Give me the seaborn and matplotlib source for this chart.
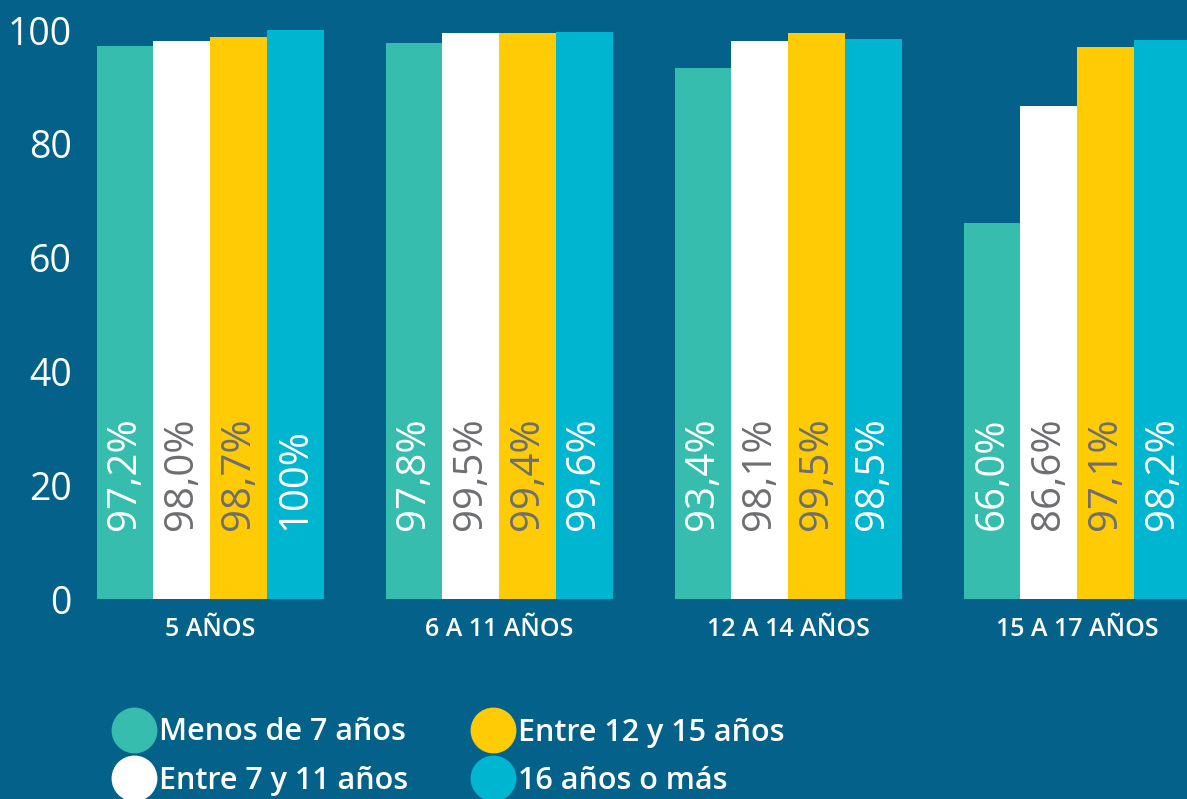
import matplotlib
matplotlib.use("Agg")
import matplotlib.pyplot as plt
from matplotlib.lines import Line2D
import seaborn as sns
import pandas as pd

grupos = ["5 AÑOS", "6 A 11 AÑOS", "12 A 14 AÑOS", "15 A 17 AÑOS"]
series = ["Menos de 7 años", "Entre 7 y 11 años", "Entre 12 y 15 años", "16 años o más"]
menos_7 = [97.2, 97.8, 93.4, 66.0]
entre_7_11 = [98.0, 99.5, 98.1, 86.6]
entre_12_15 = [98.7, 99.4, 99.5, 97.1]
mas_16 = [100.0, 99.6, 98.5, 98.2]
etiquetas = [
    ["97,2%", "97,8%", "93,4%", "66,0%"],
    ["98,0%", "99,5%", "98,1%", "86,6%"],
    ["98,7%", "99,4%", "99,5%", "97,1%"],
    ["100%", "99,6%", "98,5%", "98,2%"],
]

colores = ["#36BDAE", "#FFFFFF", "#FFCB05", "#00B5CF"]
color_texto = ["white", "#6D6E71", "#6D6E71", "white"]
fondo = "#04628A"

valores = [menos_7, entre_7_11, entre_12_15, mas_16]
df = pd.DataFrame({
    "grupo": grupos * 4,
    "serie": [s for s in series for _ in grupos],
    "valor": [v for serie in valores for v in serie],
})

sns.set_theme(style="white")
plt.rcParams["font.family"] = ["Open Sans", "DejaVu Sans"]

fig = plt.figure(figsize=(11.87, 7.99), dpi=100, facecolor=fondo)
ax = fig.add_axes([80 / 1187, 1 - 599 / 799, 1 - 80 / 1187, 569 / 799])
ax.set_facecolor(fondo)

sns.barplot(data=df, x="grupo", y="valor", hue="serie", hue_order=series,
            palette=colores, saturation=1, width=0.785, legend=False,
            linewidth=0, ax=ax)

ax.set_xlim(-0.45, 3.38)
ax.set_ylim(0, 100)
ax.set_yticks([0, 20, 40, 60, 80, 100])
ax.set_xlabel("")
ax.set_ylabel("")
sns.despine(ax=ax, left=True, bottom=True)

ax.tick_params(axis="y", length=0, pad=6, labelsize=27, labelcolor="white")
ax.tick_params(axis="x", length=0, pad=13, labelsize=18, labelcolor="white")
for t in ax.get_xticklabels():
    t.set_fontweight("semibold")

for i, cont in enumerate(ax.containers):
    for j, bar in enumerate(cont):
        ax.text(bar.get_x() + bar.get_width() / 2, 12.2, etiquetas[i][j],
                rotation=90, ha="center", va="bottom", fontsize=29,
                color=color_texto[i])

handles = [Line2D([], [], marker="o", linestyle="", markersize=32,
                  markerfacecolor=c, markeredgecolor=c) for c in colores]
leg = fig.legend(handles, series, loc="upper left", bbox_to_anchor=(86 / 1187, 1 - 690 / 799),
                 ncol=2, frameon=False, fontsize=22, handletextpad=0.15,
                 columnspacing=2.1, labelspacing=0.6, handlelength=1.35)
for t in leg.get_texts():
    t.set_color("white")
    t.set_fontweight("semibold")

fig.savefig("out.png", dpi=100, facecolor=fondo)
